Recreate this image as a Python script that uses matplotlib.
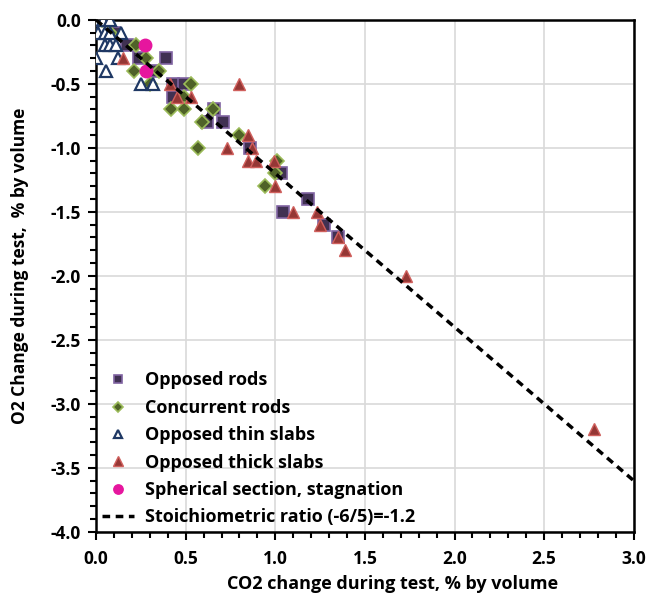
import numpy as np
import matplotlib
matplotlib.use("Agg")
import matplotlib.pyplot as plt
from matplotlib.ticker import MultipleLocator

plt.rcParams['font.family'] = ['Open Sans', 'DejaVu Sans']
plt.rcParams['font.weight'] = 'bold'

# Opposed rods (squares)
rods_x = [0.10, 0.17, 0.24, 0.39, 0.31, 0.43, 0.49, 0.43, 0.66, 0.62, 0.71,
          0.86, 1.03, 1.18, 1.04, 1.27, 1.35]
rods_y = [-0.1, -0.2, -0.3, -0.3, -0.4, -0.5, -0.5, -0.6, -0.7, -0.8, -0.8,
          -1.0, -1.2, -1.4, -1.5, -1.6, -1.7]

# Concurrent rods (diamonds)
conc_x = [0.03, 0.08, 0.22, 0.28, 0.21, 0.35, 0.30, 0.53, 0.49, 0.42, 0.49,
          0.65, 0.59, 0.80, 0.57, 1.01, 1.00, 0.94]
conc_y = [0.0, -0.1, -0.2, -0.3, -0.4, -0.4, -0.5, -0.5, -0.6, -0.7, -0.7,
          -0.7, -0.8, -0.9, -1.0, -1.1, -1.2, -1.3]

# Opposed thin slabs (open triangles)
thin_x = [0.0, 0.04, 0.08, 0.01, 0.05, 0.08, 0.14, 0.05, 0.08, 0.11, 0.0,
          0.12, 0.055, 0.25, 0.32]
thin_y = [0.0, 0.0, 0.0, -0.1, -0.1, -0.1, -0.1, -0.2, -0.2, -0.2, -0.3,
          -0.3, -0.4, -0.5, -0.5]

# Opposed thick slabs (filled triangles)
thick_x = [0.15, 0.41, 0.80, 0.45, 0.53, 0.85, 0.73, 0.87, 0.85, 0.89, 0.99,
           1.00, 1.10, 1.23, 1.25, 1.35, 1.39, 1.73, 2.78]
thick_y = [-0.3, -0.5, -0.5, -0.6, -0.6, -0.9, -1.0, -1.0, -1.1, -1.1, -1.1,
           -1.3, -1.5, -1.5, -1.6, -1.7, -1.8, -2.0, -3.2]

# Spherical section, stagnation (circles)
sph_x = [0.27, 0.28]
sph_y = [-0.2, -0.4]

# Stoichiometric line
line_x = [0.0, 3.0]
ratio = -1.2

fig = plt.figure(figsize=(6.54, 6.03), dpi=100)
ax = fig.add_axes([0.147, 0.118, 0.822, 0.849])

ms = 8.5
ax.plot(rods_x, rods_y, 's', ms=ms, mfc='#403152', mec='#8064A2', mew=1.2,
        label='Opposed rods', zorder=3)
ax.plot(conc_x, conc_y, 'D', ms=ms - 1.5, mfc='#4F6228', mec='#9BBB59', mew=1.2,
        label='Concurrent rods', zorder=4)
ax.plot(thin_x, thin_y, '^', ms=ms, mfc='white', mec='#1F3864', mew=1.6,
        label='Opposed thin slabs', zorder=5)
ax.plot(thick_x, thick_y, '^', ms=ms + 0.5, mfc='#953735', mec='#D0605D', mew=1.0,
        label='Opposed thick slabs', zorder=6)
ax.plot(sph_x, sph_y, 'o', ms=ms + 0.5, mfc='#E6169E', mec='#E6169E',
        label='Spherical section, stagnation', zorder=7)
ax.plot(line_x, [ratio * v for v in line_x], '--', color='black', lw=2.5,
        dashes=(2.2, 1.6), label='Stoichiometric ratio (-6/5)=-1.2', zorder=8)

ax.set_xlim(0, 3.0)
ax.set_ylim(-4.0, 0)
ax.xaxis.set_major_locator(MultipleLocator(0.5))
ax.yaxis.set_major_locator(MultipleLocator(0.5))
ax.xaxis.set_minor_locator(MultipleLocator(0.1))
ax.yaxis.set_minor_locator(MultipleLocator(0.1))
ax.xaxis.set_major_formatter(plt.FormatStrFormatter('%.1f'))
ax.yaxis.set_major_formatter(plt.FormatStrFormatter('%.1f'))
ax.grid(True, which='major', color='#D9D9D9', lw=1.2)
ax.set_axisbelow(True)
for s in ax.spines.values():
    s.set_linewidth(1.8)
    s.set_color('black')
fs = 13
ax.tick_params(which='both', direction='out', width=1.5, labelsize=12.5, pad=5)
ax.tick_params(axis='x', pad=7)
ax.tick_params(which='major', length=6)
ax.tick_params(which='minor', length=4)
for lab in ax.get_xticklabels() + ax.get_yticklabels():
    lab.set_fontweight('bold')

ax.set_xlabel('CO2 change during test, % by volume', fontsize=fs, fontweight='bold')
ax.set_ylabel('O2 Change during test,  % by volume', fontsize=12.5, fontweight='bold')
ax.xaxis.set_label_coords(0.552, -0.085)
ax.yaxis.set_label_coords(-0.125, 0.52)

ax.legend(loc='lower left', frameon=False, handlelength=1.8, markerscale=0.75,
          handletextpad=0.6, labelspacing=0.52, borderaxespad=0.0, borderpad=0.3,
          prop={'weight': 'bold', 'size': fs})

fig.savefig('out.png', dpi=100)
